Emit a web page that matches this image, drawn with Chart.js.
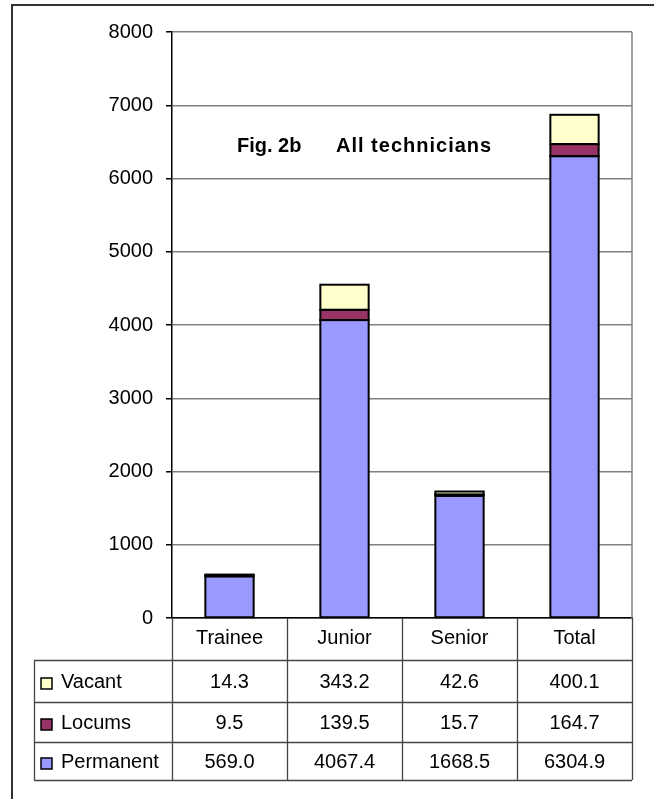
<!DOCTYPE html>
<html>
<head>
<meta charset="utf-8">
<script src="https://cdn.jsdelivr.net/npm/chart.js@4.4.1/dist/chart.umd.min.js"></script>
<style>
  html, body { margin: 0; padding: 0; background: #fff; }
  body { width: 654px; height: 799px; overflow: hidden; position: relative; }
  #frame { position: absolute; left: 11px; top: 4px; width: 800px; height: 900px;
           border-left: 2px solid #333; border-top: 2px solid #333; }
  #c { position: absolute; left: 0; top: 0; }
</style>
</head>
<body>
<div id="frame"></div>
<canvas id="c" width="654" height="799"></canvas>
<script>
const categories = ['Trainee', 'Junior', 'Senior', 'Total'];
const permanent = [569.0, 4067.4, 1668.5, 6304.9];
const locums = [9.5, 139.5, 15.7, 164.7];
const vacant = [14.3, 343.2, 42.6, 400.1];
const yTicks = [0, 1000, 2000, 3000, 4000, 5000, 6000, 7000, 8000];
const titleLeft = 'Fig. 2b';
const titleRight = 'All technicians';

const FONT = "'Liberation Sans', Arial, sans-serif";

const colPermanent = '#9999FF';
const colLocums = '#993366';
const colVacant = '#FFFFCC';

// table geometry
const tableLeft = 34;
const rowLines = [660, 702, 742, 780];
const lineCol = '#444';

// Excel-style outlines: stroke centred on each bar segment's edges
const outlinePlugin = {
  id: 'outlinePlugin',
  afterDatasetsDraw(chart) {
    const ctx = chart.ctx;
    ctx.save();
    ctx.strokeStyle = '#000';
    ctx.lineWidth = 2;
    chart.data.datasets.forEach((d, di) => {
      const meta = chart.getDatasetMeta(di);
      meta.data.forEach(el => {
        const p = el.getProps(['x', 'y', 'base', 'width'], true);
        const l = p.x - p.width / 2;
        const t = Math.min(p.y, p.base);
        const h = Math.abs(p.base - p.y);
        ctx.strokeRect(l, t, p.width, h);
      });
    });
    ctx.restore();
  }
};

const tablePlugin = {
  id: 'tablePlugin',
  afterDraw(chart) {
    const ctx = chart.ctx;
    const area = chart.chartArea;
    const xs = chart.scales.x;
    const n = categories.length;
    const cw = (area.right - area.left) / n;
    ctx.save();
    // plot right border (gray)
    ctx.strokeStyle = '#808080';
    ctx.lineWidth = 1.5;
    ctx.beginPath();
    ctx.moveTo(area.right, area.top);
    ctx.lineTo(area.right, area.bottom);
    ctx.stroke();

    // table lines
    ctx.strokeStyle = lineCol;
    ctx.lineWidth = 1.3;
    ctx.beginPath();
    for (let i = 0; i <= n; i++) {
      const x = Math.round(area.left + i * cw) + 0.5;
      ctx.moveTo(x, area.bottom);
      ctx.lineTo(x, rowLines[rowLines.length - 1]);
    }
    ctx.moveTo(tableLeft + 0.5, rowLines[0]);
    ctx.lineTo(tableLeft + 0.5, rowLines[rowLines.length - 1]);
    rowLines.forEach(y => {
      ctx.moveTo(tableLeft, y + 0.5);
      ctx.lineTo(area.right, y + 0.5);
    });
    ctx.stroke();

    // rows: top row is last dataset
    const ds = chart.data.datasets.slice().reverse();
    ctx.font = '20px ' + FONT;
    ctx.fillStyle = '#000';
    ctx.textBaseline = 'middle';
    ds.forEach((d, r) => {
      const yc = (rowLines[r] + rowLines[r + 1]) / 2 + 1;
      // legend key
      ctx.fillStyle = d.backgroundColor;
      ctx.fillRect(41, yc - 4, 11, 11);
      ctx.strokeStyle = '#000';
      ctx.lineWidth = 1.5;
      ctx.strokeRect(41, yc - 4, 11, 11);
      ctx.fillStyle = '#000';
      ctx.textAlign = 'left';
      ctx.fillText(d.label, 61, yc);
      ctx.textAlign = 'center';
      d.data.forEach((v, i) => {
        const xc = xs.getPixelForValue(i);
        ctx.fillText(v.toFixed(1), xc, yc);
      });
    });

    // title inside plot area
    ctx.font = 'bold 20px ' + FONT;
    ctx.textAlign = 'left';
    ctx.textBaseline = 'alphabetic';
    ctx.fillText(titleLeft, 237, 152);
    ctx.letterSpacing = '1px';
    ctx.fillText(titleRight, 336, 152);
    ctx.letterSpacing = '0px';
    ctx.restore();
  }
};

Chart.defaults.color = '#000';
Chart.defaults.font.family = FONT;

new Chart(document.getElementById('c'), {
  type: 'bar',
  data: {
    labels: categories,
    datasets: [
      { label: 'Permanent', data: permanent, backgroundColor: colPermanent },
      { label: 'Locums', data: locums, backgroundColor: colLocums },
      { label: 'Vacant', data: vacant, backgroundColor: colVacant }
    ].map(d => Object.assign(d, {
      borderWidth: 0,
      barPercentage: 0.42, categoryPercentage: 1
    }))
  },
  options: {
    responsive: false,
    animation: false,
    devicePixelRatio: 1,
    layout: { padding: { top: 32, right: 22, bottom: 0, left: 0 } },
    plugins: { legend: { display: false }, title: { display: false }, tooltip: { enabled: false } },
    scales: {
      x: {
        stacked: true,
        grid: { display: false, drawTicks: false },
        border: { display: true, color: '#000', width: 1.5 },
        ticks: { font: { size: 20 }, padding: 8, color: '#000', maxRotation: 0 },
        afterFit(s) { s.height = 181; }
      },
      y: {
        stacked: true,
        min: 0, max: 8000,
        afterBuildTicks(s) { s.ticks = yTicks.map(v => ({ value: v })); },
        grid: { color: '#808080', lineWidth: 1.5, tickLength: 6, tickColor: '#000', tickWidth: 1.5 },
        border: { display: true, color: '#000', width: 1.5 },
        ticks: { font: { size: 20 }, padding: 13, color: '#000', callback: v => String(v) },
        afterFit(s) { s.width = 172; }
      }
    }
  },
  plugins: [outlinePlugin, tablePlugin]
});
</script>
</body>
</html>
